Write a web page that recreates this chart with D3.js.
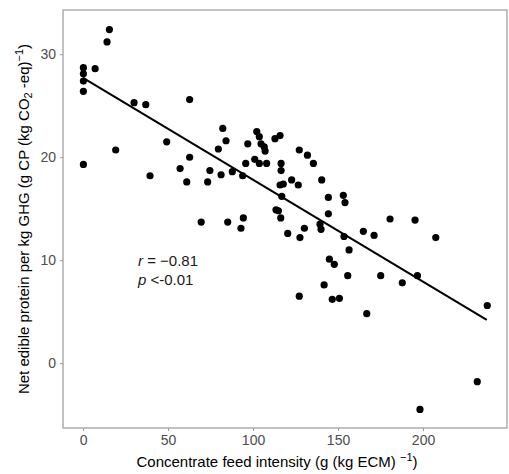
<!DOCTYPE html>
<html><head><meta charset="utf-8">
<script src="https://cdn.jsdelivr.net/npm/d3@7"></script>
<style>body{margin:0;background:#fff}svg{display:block}text{font-family:"Liberation Sans",Arial,sans-serif}</style>
</head><body><svg id="c" width="509" height="474"></svg>
<script>
const feedIntensity = [0.2,0.2,0.2,0.2,0.2,7.1,14.1,15.5,19.2,30,36.9,39.4,49.2,57.1,61,62.7,62.7,69.5,73.3,74.6,79.6,81.2,82.2,84.1,85.1,87.8,92.9,93.9,94.3,95.7,96.9,101,102.2,103.7,103.7,104.7,106.6,107.1,108,112.9,113.5,114.9,115.9,115.9,116.3,116.5,116.5,116.9,117.8,120.4,122.7,126.6,127.2,127.2,127.6,130.2,132,135.5,139.4,140,140.4,141.8,144.3,144.3,144.9,146.6,147.8,150.8,153.1,153.5,154.1,155.7,156.5,164.9,166.9,171.2,175.1,180.6,187.8,195.3,196.7,198.2,207.5,231.9,237.8];
const netProtein = [28.7,28.1,27.4,26.4,19.3,28.6,31.2,32.4,20.7,25.3,25.1,18.2,21.5,18.9,17.6,25.6,20.0,13.7,17.6,18.7,20.8,18.3,22.8,21.6,13.7,18.6,13.1,18.2,14.1,19.4,21.3,19.8,22.5,22.0,19.4,21.3,21.0,20.6,19.4,21.8,14.9,14.8,22.1,17.3,14.1,19.4,18.7,16.2,17.4,12.6,17.8,17.3,20.7,6.5,12.2,13.1,20.2,19.4,13.5,13.0,17.8,7.6,16.1,14.5,10.1,6.2,9.6,6.3,16.3,12.3,15.6,8.5,11.0,12.8,4.8,12.4,8.5,14.0,7.8,13.9,8.5,-4.5,12.2,-1.8,5.6];
const fitX = [0, 237.5];
const fitY = [27.7, 4.2];
const xTicks = [0,50,100,150,200];
const yTicks = [0,10,20,30];

const svg = d3.select("#c");
const L=63, T=10, R=507, B=428;
const x = d3.scaleLinear().domain([-11.8,249.4]).range([L,R]);
const y = d3.scaleLinear().domain([-6.3,34.3]).range([B,T]);
const axisCol="#4d4d4d", frameCol="#9a9a9a";

const gx = svg.append("g").attr("transform",`translate(0,${B})`)
  .call(d3.axisBottom(x).tickValues(xTicks).tickSize(3).tickPadding(4));
const gy = svg.append("g").attr("transform",`translate(${L},0)`)
  .call(d3.axisLeft(y).tickValues(yTicks).tickSize(3).tickPadding(4));
[gx,gy].forEach(g=>{
  g.select(".domain").remove();
  g.selectAll(".tick line").attr("stroke",frameCol);
  g.selectAll(".tick text").attr("fill",axisCol).style("font-size","14px");
});

svg.append("rect").attr("x",L).attr("y",T).attr("width",R-L).attr("height",B-T)
  .attr("fill","none").attr("stroke",frameCol).attr("stroke-width",1.2);

const pts = feedIntensity.map((v,i)=>[v,netProtein[i]]);
svg.append("g").selectAll("circle").data(pts).join("circle")
  .attr("cx",d=>x(d[0])).attr("cy",d=>y(d[1])).attr("r",3.6).attr("fill","#000");

svg.append("line").attr("x1",x(fitX[0])).attr("y1",y(fitY[0]))
  .attr("x2",x(fitX[1])).attr("y2",y(fitY[1])).attr("stroke","#000").attr("stroke-width",2);

const t1 = svg.append("text").attr("x",138).attr("y",266).style("font-size","15px").attr("fill","#1a1a1a");
t1.append("tspan").style("font-style","italic").text("r");
t1.append("tspan").text(" = \u22120.81");
const t2 = svg.append("text").attr("x",138).attr("y",285).style("font-size","15px").attr("fill","#1a1a1a");
t2.append("tspan").style("font-style","italic").text("p");
t2.append("tspan").text(" <-0.01");

const xl = svg.append("text").attr("x",(L+R)/2 - 8).attr("y",467).attr("text-anchor","middle")
  .style("font-size","15px").attr("fill","#000");
xl.append("tspan").text("Concentrate feed intensity (g (kg ECM) ");
xl.append("tspan").attr("dy",-6).style("font-size","11px").text("\u22121");
xl.append("tspan").attr("dy",6).text(")");

const yl = svg.append("text").attr("transform",`translate(29,${(T+B)/2}) rotate(-90)`)
  .attr("text-anchor","middle").style("font-size","15px").attr("fill","#000");
yl.append("tspan").text("Net edible protein per kg GHG (g CP (kg CO");
yl.append("tspan").attr("dy",3).style("font-size","11px").text("2");
yl.append("tspan").attr("dy",-3).text(" -eq)");
yl.append("tspan").attr("dy",-6).style("font-size","11px").text("\u22121");
yl.append("tspan").attr("dy",6).text(")");
</script></body></html>
